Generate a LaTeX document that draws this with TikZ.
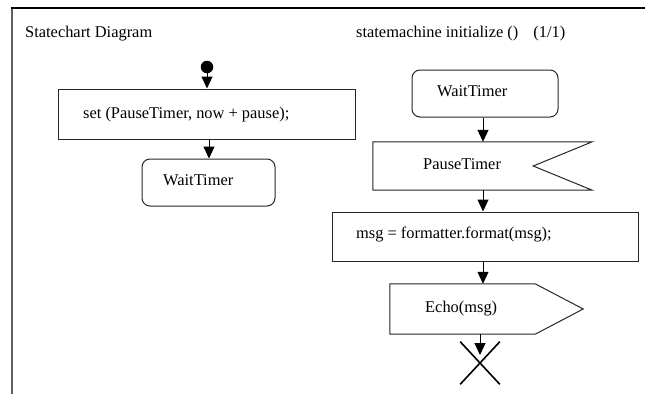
\documentclass[tikz,border=0pt]{standalone}
\usepackage{fontspec}
\setmainfont{Liberation Serif}
\usetikzlibrary{arrows.meta,calc,shapes.misc}
\begin{document}
\begin{tikzpicture}[x=1pt,y=-1pt,
  txt/.style={anchor=base west,inner sep=0pt,font=\fontsize{16.4}{19}\selectfont},
  box/.style={draw=black!85,line width=1pt,rectangle,inner sep=0pt},
  rbox/.style={box,rounded corners=8pt},
  ghost/.style={rectangle,inner sep=0pt},
  shp/.style={draw=black!85,line width=1pt},
  arr/.style={draw=black,line width=1pt,-{Triangle[length=12pt,width=11pt]}}
]
\useasboundingbox (0,0) rectangle (645,394);
% frame
\draw[gray!75!black,line width=2pt] (12,7.5) -- (12,394);
\draw[black,line width=1.6pt] (11,8) -- (645,8);
% titles
\node[txt] (t1) at (25,37) {Statechart Diagram};
\node[txt] (t2) at (356,37) {statemachine initialize ()\hspace{15pt}(1/1)};
% left column
\node[circle,fill=black,inner sep=0pt,minimum size=12.5pt] (init) at (207,67) {};
\node[box,minimum width=297pt,minimum height=50pt] (setb) at (206.5,114) {};
\node[txt] (sett) at (83,118) {set (PauseTimer, now + pause);};
\node[rbox,minimum width=133pt,minimum height=47pt] (lwt) at (208.5,182.5) {};
\node[txt] (lwtt) at (163,185) {WaitTimer};
\draw[arr] (init) -- (init |- setb.north);
\coordinate (lc) at (209,0);
\draw[arr] (setb.south -| lc) -- (lwt.north -| lc);
% right column
\coordinate (rc) at (483,0);
\node[rbox,minimum width=146pt,minimum height=47pt] (rwt) at (485,93.5) {};
\node[txt] (rwtt) at (437,96) {WaitTimer};
\node[ghost,minimum width=219pt,minimum height=48pt] (pt) at (482.5,166) {};
\draw[shp] (pt.north west) -- (pt.north east) -- ($(pt.east)+(-59,0)$) -- (pt.south east) -- (pt.south west) -- cycle;
\node[txt] (ptt) at (423,169) {PauseTimer};
\node[box,minimum width=306pt,minimum height=49pt] (msg) at (485,236.5) {};
\node[txt] (msgt) at (356,238) {msg = formatter.format(msg);};
\node[ghost,minimum width=145pt,minimum height=50pt] (echo) at (462.5,309) {};
\draw[shp] (echo.north west) -- (echo.north east) -- ($(echo.east)+(48,0)$) -- (echo.south east) -- (echo.south west) -- cycle;
\node[txt] (echot) at (425,312) {Echo(msg)};
\node[cross out,draw=black,line width=1.6pt,minimum width=38pt,minimum height=41pt,inner sep=0pt] (term) at (480,363) {};
\draw[arr] (rwt.south -| rc) -- (pt.north -| rc);
\draw[arr] (pt.south -| rc) -- (msg.north -| rc);
\draw[arr] (msg.south -| rc) -- (echo.north -| rc);
\draw[arr] (echo.south -| term) -- ($(term.center)+(0,-8)$);
\end{tikzpicture}
\end{document}
